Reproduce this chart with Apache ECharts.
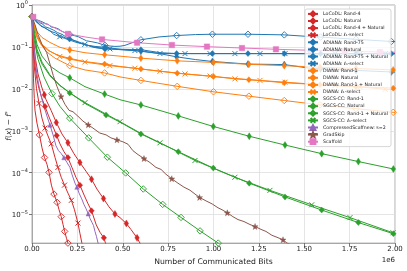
<!DOCTYPE html>
<html><head><meta charset="utf-8">
<script src="https://cdn.jsdelivr.net/npm/echarts@6.0.0/dist/echarts.min.js"></script>
<style>html,body{margin:0;padding:0;background:#fff}#c{width:407px;height:271px}</style>
</head><body><div id="c"></div>
<script>
// x values in units of 1e6 communicated bits, y values = f(x) - f*
const xTicks = [0, 0.25, 0.5, 0.75, 1.0, 1.25, 1.5, 1.75, 2.0];

const locodl_rand4 = [[0,0.53],[0.0083,0.151],[0.0193,0.0512],[0.033,0.0227],[0.0534,0.0111],[0.068,0.0072],[0.077,0.00558],[0.105,0.00308],[0.134,0.00158],[0.165,0.000841],[0.198,0.000517],[0.231,0.000285],[0.264,0.000175],[0.298,0.000108],[0.328,7.0e-5],[0.358,4.07e-5],[0.394,2.42e-5],[0.424,1.54e-5],[0.457,1.04e-5],[0.485,8.5e-6],[0.52,6.15e-6],[0.545,4.45e-6],[0.579,2.8e-6],[0.595,2.09e-6],[0.60,1.95e-6]];
const locodl_rand4_marks = [0,0.068,0.134,0.198,0.264,0.328,0.394,0.457,0.52,0.579];
const locodl_nat = [[0,0.53],[0.0055,0.151],[0.0138,0.0459],[0.0248,0.0193],[0.0386,0.0101],[0.055,0.00589],[0.0716,0.00382],[0.0898,0.00236],[0.110,0.00144],[0.136,0.00077],[0.154,0.00049],[0.176,0.000318],[0.198,0.00023],[0.220,0.000134],[0.242,7.8e-5],[0.264,5.06e-5],[0.287,2.94e-5],[0.309,1.81e-5],[0.328,1.24e-5],[0.354,5.7e-6],[0.375,3.78e-6],[0.396,2.8e-6],[0.405,2.09e-6],[0.41,1.85e-6]];
const locodl_nat_marks = [0,0.0716,0.136,0.198,0.264,0.328,0.396];
const locodl_rn = [[0,0.53],[0.0044,0.088],[0.0083,0.0173],[0.0127,0.00589],[0.0165,0.00308],[0.0275,0.00152],[0.0413,0.0008],[0.055,0.000395],[0.0689,0.00023],[0.0826,0.000158],[0.0937,0.000102],[0.107,5.06e-5],[0.121,3.1e-5],[0.138,1.97e-5],[0.149,1.31e-5],[0.161,8.97e-6],[0.171,5.82e-6],[0.180,3.99e-6],[0.190,2.74e-6],[0.198,2.1e-6],[0.204,1.85e-6]];
const locodl_rn_marks = [0.0413,0.0689,0.0937,0.121,0.138,0.161,0.180,0.198];
const locodl_l1 = [[0,0.53],[0.0055,0.115],[0.0138,0.0298],[0.0248,0.0101],[0.0386,0.0045],[0.055,0.002],[0.0716,0.00116],[0.088,0.000755],[0.106,0.00049],[0.127,0.00023],[0.143,0.000134],[0.161,7.8e-5],[0.179,5.06e-5],[0.198,3.28e-5],[0.217,2.2e-5],[0.234,1.31e-5],[0.253,6.3e-6],[0.264,3.6e-6],[0.275,2.1e-6],[0.281,1.85e-6]];
const locodl_l1_marks = [0.0386,0.0716,0.106,0.143,0.179,0.217,0.253];

const adiana_rand75 = [[0,0.53],[0.02,0.45],[0.04,0.38],[0.055,0.36],[0.075,0.30],[0.095,0.28],[0.12,0.25],[0.14,0.22],[0.165,0.20],[0.19,0.17],[0.22,0.15],[0.26,0.125],[0.3,0.11],[0.347,0.103],[0.402,0.098],[0.485,0.088],[0.6,0.0788],[0.705,0.069],[0.797,0.058],[0.9,0.05],[0.994,0.045],[1.19,0.039],[1.39,0.038],[1.532,0.031],[1.59,0.030],[1.785,0.0275],[1.98,0.0253],[2.0,0.025]];
const adiana_rand75_marks = [0,0.402,0.6,0.797,0.994,1.19,1.39,1.59,1.785,1.98];
const adiana_nat = [[0,0.53],[0.022,0.40],[0.035,0.36],[0.05,0.31],[0.07,0.29],[0.09,0.25],[0.11,0.23],[0.13,0.215],[0.15,0.19],[0.17,0.175],[0.19,0.16],[0.207,0.154],[0.24,0.14],[0.27,0.125],[0.30,0.112],[0.33,0.10],[0.36,0.094],[0.402,0.0895],[0.485,0.088],[0.55,0.087],[0.6,0.086],[0.705,0.073],[0.797,0.0695],[0.994,0.0693],[1.19,0.0693],[1.39,0.0693],[1.59,0.069],[1.785,0.069],[1.98,0.069],[2.0,0.069]];
const adiana_nat_marks = [0,0.207,0.402,0.6,0.797,0.994,1.19,1.39,1.59,1.785,1.98];
const adiana_rn = [[0,0.53],[0.0165,0.445],[0.03,0.44],[0.04,0.40],[0.06,0.39],[0.075,0.36],[0.09,0.345],[0.105,0.30],[0.125,0.29],[0.145,0.27],[0.165,0.235],[0.185,0.215],[0.207,0.198],[0.235,0.185],[0.255,0.175],[0.28,0.155],[0.30,0.14],[0.33,0.133],[0.36,0.125],[0.402,0.109],[0.43,0.105],[0.457,0.103],[0.485,0.104],[0.512,0.109],[0.55,0.125],[0.6,0.148],[0.70,0.173],[0.797,0.187],[0.9,0.197],[0.994,0.201],[1.19,0.201],[1.39,0.194],[1.53,0.177],[1.59,0.172],[1.785,0.152],[1.98,0.135],[2.0,0.134]];
const adiana_rn_marks = [0.207,0.402,0.6,0.797,0.994,1.19,1.39,1.59,1.785,1.98];
const adiana_l1 = [[0,0.53],[0.02,0.42],[0.04,0.35],[0.06,0.30],[0.08,0.27],[0.10,0.24],[0.12,0.20],[0.153,0.175],[0.18,0.16],[0.21,0.145],[0.24,0.13],[0.291,0.115],[0.35,0.098],[0.429,0.09],[0.5,0.085],[0.567,0.082],[0.62,0.078],[0.705,0.0695],[0.843,0.0693],[0.981,0.0693],[1.118,0.0693],[1.256,0.0693],[1.394,0.0693],[1.532,0.069],[1.67,0.069],[1.808,0.069],[1.946,0.069],[2.0,0.069]];
const adiana_l1_marks = [0.153,0.291,0.429,0.567,0.705,0.843,0.981,1.118,1.256,1.394,1.532,1.67,1.808,1.946];

const diana_rand1 = [[0,0.53],[0.011,0.358],[0.0275,0.232],[0.055,0.168],[0.099,0.128],[0.154,0.098],[0.208,0.085],[0.292,0.0727],[0.40,0.065],[0.485,0.0603],[0.60,0.054],[0.80,0.0466],[1.0,0.0428],[1.195,0.0385],[1.39,0.0357],[1.587,0.0328],[1.785,0.0305],[1.99,0.0283],[2.0,0.0282]];
const diana_nat = [[0,0.53],[0.011,0.30],[0.0275,0.168],[0.0496,0.115],[0.088,0.083],[0.143,0.0635],[0.208,0.0532],[0.292,0.0448],[0.40,0.0391],[0.485,0.0342],[0.60,0.0298],[0.80,0.0237],[1.0,0.0197],[1.195,0.0166],[1.39,0.0140],[1.587,0.01256],[1.785,0.01127],[1.99,0.0104],[2.0,0.0103]];
const diana_rn = [[0,0.53],[0.011,0.34],[0.0275,0.187],[0.0496,0.115],[0.0826,0.075],[0.127,0.054],[0.208,0.0357],[0.292,0.0283],[0.40,0.024],[0.485,0.0193],[0.60,0.0159],[0.80,0.0115],[1.0,0.00852],[1.195,0.0067],[1.39,0.00528],[1.587,0.00416],[1.785,0.00337],[1.99,0.00276],[2.0,0.00274]];
const diana_marks = [0,0.208,0.40,0.60,0.80,1.0,1.195,1.39,1.587,1.785,1.99];
const diana_l1 = [[0,0.53],[0.011,0.321],[0.0275,0.187],[0.055,0.115],[0.099,0.0788],[0.153,0.059],[0.209,0.0512],[0.291,0.0437],[0.36,0.0395],[0.429,0.0358],[0.498,0.0333],[0.567,0.031],[0.705,0.0263],[0.843,0.0227],[0.981,0.0202],[1.118,0.0173],[1.256,0.0159],[1.394,0.0144],[1.532,0.0131],[1.67,0.0121],[1.808,0.0111],[1.946,0.0098],[2.0,0.0096]];
const diana_l1_marks = [0.153,0.291,0.429,0.567,0.705,0.843,0.981,1.118,1.256,1.394,1.532,1.67,1.808,1.946];

const sgcs_rand1 = [[0,0.53],[0.011,0.259],[0.0275,0.115],[0.055,0.0604],[0.099,0.0351],[0.154,0.024],[0.208,0.0183],[0.292,0.01127],[0.40,0.0075],[0.485,0.0055],[0.60,0.00414],[0.806,0.00227],[0.999,0.00127],[1.197,0.000742],[1.394,0.000458],[1.596,0.000285],[1.798,0.000185],[1.991,0.000123],[2.0,0.00012]];
const sgcs_rand1_marks = [0,0.208,0.40,0.60,0.806,0.999,1.197,1.394,1.596,1.798,1.991];
const sgcs_nat = [[0,0.53],[0.011,0.198],[0.0275,0.0788],[0.055,0.0391],[0.099,0.0204],[0.154,0.0119],[0.208,0.008],[0.292,0.0045],[0.408,0.00239],[0.485,0.00161],[0.60,0.000841],[0.806,0.000318],[0.999,0.000129],[1.197,5.64e-5],[1.394,2.65e-5],[1.596,1.29e-5],[1.798,6.49e-6],[1.991,3.52e-6],[2.0,3.4e-6]];
const sgcs_nat_marks = [0,0.208,0.408,0.60,0.806,0.999,1.197,1.394,1.596,1.798,1.991];
const sgcs_rn = [[0,0.53],[0.011,0.151],[0.033,0.0512],[0.066,0.0193],[0.110,0.00771],[0.154,0.00382],[0.208,0.002],[0.312,0.000678],[0.415,0.000235],[0.516,9.9e-5],[0.613,4.1e-5],[0.72,1.76e-5],[0.821,8.6e-6],[0.926,4.1e-6],[1.026,2.1e-6],[1.047,1.8e-6]];
const sgcs_rn_marks = [0,0.110,0.208,0.312,0.415,0.516,0.613,0.72,0.821,0.926,1.026];
const sgcs_l1 = [[0,0.53],[0.011,0.209],[0.0275,0.088],[0.055,0.0435],[0.099,0.0215],[0.154,0.0122],[0.209,0.008],[0.292,0.0047],[0.408,0.0025],[0.485,0.00165],[0.606,0.00084],[0.705,0.000517],[0.898,0.000196],[1.118,7.8e-5],[1.311,3.8e-5],[1.541,1.72e-5],[1.752,8.5e-6],[1.989,3.7e-6],[2.0,3.6e-6]];
const sgcs_l1_marks = [0.292,0.485,0.705,0.898,1.118,1.311,1.541,1.752,1.989];

const cscaffnew = [[0,0.53],[0.0055,0.198],[0.0138,0.067],[0.0248,0.0267],[0.0358,0.01325],[0.0496,0.0069],[0.066,0.00382],[0.0826,0.00223],[0.099,0.00137],[0.116,0.0008],[0.132,0.00044],[0.146,0.000336],[0.16,0.00029],[0.168,0.00031],[0.176,0.00023],[0.193,0.000175],[0.209,0.000134],[0.22,9.2e-5],[0.237,5.64e-5],[0.243,6.0e-5],[0.248,4.54e-5],[0.259,3.28e-5],[0.274,2.38e-5],[0.287,1.72e-5],[0.292,1.8e-5],[0.298,1.38e-5],[0.31,1.05e-5],[0.32,8.05e-6],[0.331,6.49e-6],[0.339,5.5e-6],[0.347,3.99e-6],[0.355,3.05e-6],[0.364,2.1e-6],[0.369,1.85e-6]];
const cscaffnew_marks = [0.099,0.176,0.248,0.31];
const gradskip = [[0,0.53],[0.0165,0.34],[0.033,0.198],[0.055,0.115],[0.081,0.073],[0.099,0.0391],[0.117,0.0208],[0.138,0.0113],[0.16,0.00656],[0.182,0.00426],[0.204,0.00308],[0.226,0.00284],[0.253,0.00223],[0.281,0.0017],[0.310,0.00139],[0.336,0.00116],[0.373,0.000887],[0.408,0.0008],[0.435,0.000678],[0.468,0.000608],[0.501,0.000546],[0.529,0.000478],[0.556,0.000336],[0.584,0.000271],[0.617,0.000218],[0.650,0.000175],[0.683,0.000134],[0.711,0.00012],[0.738,9.2e-5],[0.770,7.2e-5],[0.804,5.64e-5],[0.837,4.54e-5],[0.870,3.85e-5],[0.898,3.1e-5],[0.923,2.58e-5],[0.959,2.13e-5],[0.992,1.81e-5],[1.025,1.46e-5],[1.047,1.31e-5],[1.076,1.11e-5],[1.107,8.97e-6],[1.135,7.64e-6],[1.168,6.85e-6],[1.201,5.82e-6],[1.229,5.23e-6],[1.262,4.45e-6],[1.289,3.99e-6],[1.322,3.22e-6],[1.350,2.89e-6],[1.383,2.52e-6],[1.405,2.1e-6],[1.421,1.98e-6]];
const gradskip_marks = [0.16,0.310,0.468,0.617,0.770,0.923,1.076,1.229,1.383];
const scaffold = [[0,0.53],[0.007,0.52],[0.03,0.43],[0.06,0.37],[0.088,0.34],[0.143,0.26],[0.198,0.205],[0.292,0.173],[0.386,0.151],[0.579,0.126],[0.771,0.111],[0.964,0.1016],[1.157,0.0942],[1.344,0.0879],[1.537,0.0832],[1.725,0.0788],[1.917,0.0759],[2.0,0.0747]];
const scaffold_marks = [0.007,0.198,0.386,0.579,0.771,0.964,1.157,1.344,1.537,1.725,1.917];

const RED='#d62728', BLUE='#1f77b4', ORANGE='#ff7f0e', GREEN='#2ca02c', PURPLE='#9467bd', BROWN='#8c564b', PINK='#e377c2';
const FONT = 'DejaVu Sans';

const SYM = {
  rand: {symbol:'path://M0,-10L5.5,0L0,10L-5.5,0Z', size:[4.5,7], kind:'fill'},
  nat:  {symbol:'diamond', size:[5.5,6], kind:'fill'},
  rn:   {symbol:'path://M0,-10L10,0L0,10L-10,0Z', size:[6.5,6.5], kind:'hollow'},
  l1:   {symbol:'path://M-5,-5L5,5M5,-5L-5,5', size:[5,5], kind:'stroke'},
  tri:  {symbol:'triangle', size:[4.5,4.5], kind:'fill'},
  star: {symbol:'path://M0,-10L2.35,-3.24L9.51,-3.09L3.8,1.24L5.88,8.09L0,4L-5.88,8.09L-3.8,1.24L-9.51,-3.09L-2.35,-3.24Z', size:[6,6], kind:'fill'},
  sq:   {symbol:'rect', size:[5.5,5.5], kind:'fill'}
};

const defs = [
  ['LoCoDL: Rand-4', locodl_rand4, locodl_rand4_marks, RED, 'rand'],
  ['LoCoDL: Natural', locodl_nat, locodl_nat_marks, RED, 'nat'],
  ['LoCoDL: Rand-4 + Natural', locodl_rn, locodl_rn_marks, RED, 'rn'],
  ['LoCoDL: ℓ₁-select', locodl_l1, locodl_l1_marks, RED, 'l1'],
  ['ADIANA: Rand-75', adiana_rand75, adiana_rand75_marks, BLUE, 'rand'],
  ['ADIANA: Natural', adiana_nat, adiana_nat_marks, BLUE, 'nat'],
  ['ADIANA: Rand-75 + Natural', adiana_rn, adiana_rn_marks, BLUE, 'rn'],
  ['ADIANA: ℓ₁-select', adiana_l1, adiana_l1_marks, BLUE, 'l1'],
  ['DIANA: Rand-1', diana_rand1, diana_marks, ORANGE, 'rand'],
  ['DIANA: Natural', diana_nat, diana_marks, ORANGE, 'nat'],
  ['DIANA: Rand-1 + Natural', diana_rn, diana_marks, ORANGE, 'rn'],
  ['DIANA: ℓ₁-select', diana_l1, diana_l1_marks, ORANGE, 'l1'],
  ['SGCS-CC: Rand-1', sgcs_rand1, sgcs_rand1_marks, GREEN, 'rand'],
  ['SGCS-CC: Natural', sgcs_nat, sgcs_nat_marks, GREEN, 'nat'],
  ['SGCS-CC: Rand-1 + Natural', sgcs_rn, sgcs_rn_marks, GREEN, 'rn'],
  ['SGCS-CC: ℓ₁-select', sgcs_l1, sgcs_l1_marks, GREEN, 'l1'],
  ['CompressedScaffnew: s=2', cscaffnew, cscaffnew_marks, PURPLE, 'tri'],
  ['GradSkip', gradskip, gradskip_marks, BROWN, 'star'],
  ['Scaffold', scaffold, scaffold_marks, PINK, 'sq']
];

function itemStyleFor(kind, c) {
  if (kind === 'hollow') return {color:'rgba(255,255,255,0)', borderColor:c, borderWidth:0.9};
  if (kind === 'stroke') return {color:c, borderColor:c, borderWidth:1};
  return {color:c, borderColor:c, borderWidth:0.4};
}

const series = defs.map(([name, d, marks, c, sk]) => {
  const s = SYM[sk];
  return {
    type:'line', name,
    data: d.map(p => marks.indexOf(p[0]) >= 0 ? {value:p} : {value:p, symbol:'none'}),
    symbol: s.symbol, symbolSize: s.size, showAllSymbol: true,
    lineStyle: {color:c, width:1},
    itemStyle: itemStyleFor(s.kind, c),
    emphasis: {disabled:true}, silent:true, clip:true, animation:false
  };
});

const chart = echarts.init(document.getElementById('c'), null, {renderer:'canvas'});
chart.setOption({
  animation:false,
  backgroundColor:'#fff',
  grid:{left:32, right:12, top:5, bottom:24, show:true, borderColor:'#999', borderWidth:0.8, backgroundColor:'rgba(0,0,0,0)'},
  xAxis:{
    type:'value', min:xTicks[0], max:xTicks[xTicks.length-1], interval:0.25,
    name:'Number of Communicated Bits', nameLocation:'middle', nameGap:11,
    nameTextStyle:{fontFamily:FONT, fontSize:7.7, color:'#222'},
    axisLine:{show:true, lineStyle:{color:'#999', width:0.8}},
    axisTick:{show:true, length:3, lineStyle:{color:'#555', width:0.8}},
    axisLabel:{fontFamily:FONT, fontSize:7, color:'#222', margin:3, formatter:v => v.toFixed(2)},
    splitLine:{show:true, lineStyle:{color:'#dedede', width:0.8}}
  },
  yAxis:{
    type:'log', logBase:10, min:2.1e-6, max:1,
    axisLine:{show:true, lineStyle:{color:'#999', width:0.8}},
    axisTick:{show:true, length:3, lineStyle:{color:'#555', width:0.8}},
    axisLabel:{fontFamily:FONT, color:'#222', margin:4, showMinLabel:false,
      formatter: v => { const l = Math.log10(v), e = Math.round(l); if (Math.abs(l-e) > 0.01) return ''; return '{b|10}{s|' + (e < 0 ? '−' : '') + Math.abs(e) + '}'; },
      rich:{b:{fontFamily:FONT, fontSize:7, color:'#222', lineHeight:9, verticalAlign:'bottom'}, s:{fontFamily:FONT, fontSize:5, color:'#222', verticalAlign:'top', lineHeight:6}}},
    splitLine:{show:true, lineStyle:{color:'#dedede', width:0.8}}
  },
  legend:{
    orient:'vertical', left:305, top:9, itemWidth:10, itemHeight:6, itemGap:0.3,
    padding:[1.5,3,1.5,2], backgroundColor:'rgba(255,255,255,0.8)', borderColor:'#cccccc', borderWidth:0.8, borderRadius:2,
    textStyle:{fontFamily:FONT, fontSize:4.7, lineHeight:6, color:'#222'},
    selectedMode:false, data: defs.map(d => d[0])
  },
  graphic:[
    {type:'text', right:12, top:257, style:{text:'1e6', fontFamily:FONT, fontSize:7, fill:'#222', textAlign:'right'}},
    {type:'text', x:9, y:126, rotation:Math.PI/2, style:{text:'{i|f}({i|x}) − {i|f}{s|*}', x:0, y:0, align:'center', verticalAlign:'middle', fontFamily:FONT, fontSize:7.5, fill:'#222',
      rich:{i:{fontFamily:FONT, fontStyle:'italic', fontSize:7.5, fill:'#222'}, s:{fontFamily:FONT, fontSize:5.5, fill:'#222', verticalAlign:'top'}}}}
  ],
  series
});
</script></body></html>
